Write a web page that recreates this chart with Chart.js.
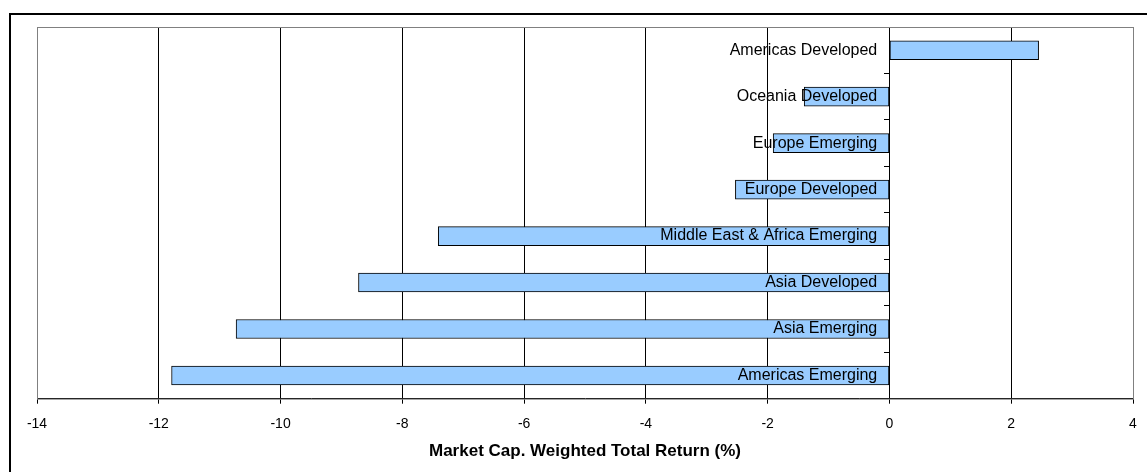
<!DOCTYPE html>
<html>
<head>
<meta charset="utf-8">
<script src="https://cdn.jsdelivr.net/npm/chart.js@4"></script>
<style>
  html, body { margin: 0; padding: 0; background: #fff; overflow: hidden; }
  #frame { position: absolute; left: 9px; top: 13px; width: 1200px; height: 500px; border: 2px solid #000; }
  #wrap { position: absolute; left: 0; top: 0; width: 1147px; height: 472px; }
</style>
</head>
<body>
<div id="frame"></div>
<div id="wrap"><canvas id="returnChart"></canvas></div>
<script>
const regions = [
    "Americas Developed",
    "Oceania Developed",
    "Europe Emerging",
    "Europe Developed",
    "Middle East & Africa Emerging",
    "Asia Developed",
    "Asia Emerging",
    "Americas Emerging"
];
const totalReturn = [2.45, -1.40, -1.91, -2.53, -7.41, -8.72, -10.73, -11.79];
const xMin = -14;
const xMax = 4;
const xStep = 2;

// grey frame round the plot area
const plotBorder = {
    id: "plotBorder",
    beforeDatasetsDraw(chart) {
        const a = chart.chartArea;
        const ctx = chart.ctx;
        ctx.save();
        ctx.strokeStyle = "#808080";
        ctx.lineWidth = 1;
        ctx.strokeRect(a.left + 0.5, a.top + 0.5, a.right - a.left, a.bottom - a.top);
        ctx.restore();
    }
};

const ctx = document.getElementById("returnChart").getContext("2d");

new Chart(ctx, {
    type: "bar",
    data: {
        labels: regions,
        datasets: [{
            data: totalReturn,
            backgroundColor: "#99CCFF",
            borderColor: "#000000",
            borderWidth: 1,
            borderSkipped: false,
            barThickness: 19
        }]
    },
    options: {
        indexAxis: "y",
        responsive: true,
        maintainAspectRatio: false,
        animation: false,
        layout: { padding: { left: 37, right: 14, top: 27, bottom: 12 } },
        plugins: {
            legend: { display: false },
            tooltip: { enabled: false }
        },
        scales: {
            x: {
                min: xMin,
                max: xMax,
                ticks: {
                    stepSize: xStep,
                    color: "#000",
                    padding: 10,
                    font: { family: "Liberation Sans", size: 14, lineHeight: 1.45 }
                },
                grid: {
                    color: c => (c.tick && (c.tick.value === xMin || c.tick.value === xMax)) ? "#808080" : "#000",
                    tickColor: "#000",
                    tickLength: 5,
                    lineWidth: 1
                },
                border: { color: "#000", width: 1 },
                title: {
                    display: true,
                    text: "Market Cap. Weighted Total Return (%)",
                    color: "#000",
                    font: { family: "Liberation Sans", size: 17, weight: "bold", lineHeight: 1.0 },
                    padding: { top: -1, bottom: 0 }
                }
            },
            // category labels, set a little left of zero and drawn above the bars
            y: {
                position: { x: -0.2 },
                offset: true,
                ticks: {
                    z: 1,
                    color: "#000",
                    font: { family: "Liberation Sans", size: 16 }
                },
                grid: { display: false },
                border: { display: false }
            },
            // zero line with its small tick marks
            y2: {
                type: "category",
                position: { x: 0 },
                offset: true,
                ticks: { display: false },
                grid: {
                    offset: true,
                    drawOnChartArea: false,
                    tickColor: "#000",
                    tickLength: 5
                },
                border: { color: "#000", width: 1 }
            }
        }
    },
    plugins: [plotBorder]
});
</script>
</body>
</html>
